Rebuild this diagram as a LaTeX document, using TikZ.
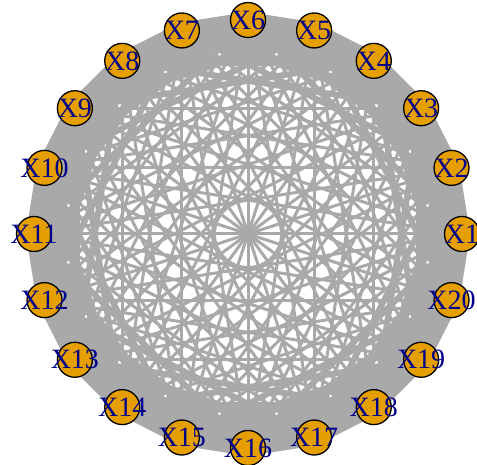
\documentclass[tikz,border=0pt]{standalone}
\usepackage{fontspec}
\setmainfont{Liberation Serif}
\usetikzlibrary{calc}
\definecolor{edgegray}{HTML}{A9A9A9}
\definecolor{nodeorange}{HTML}{E69F00}
\definecolor{labelblue}{HTML}{00008B}
\pgfdeclarelayer{bg}
\pgfsetlayers{bg,main}
\tikzset{
  vtx/.style={circle, draw=black, line width=1.3pt, fill=nodeorange, minimum size=35pt, inner sep=0pt},
  vlabel/.style={text=labelblue, font=\fontsize{28}{28}\selectfont, inner sep=0pt},
  edg/.style={draw=edgegray, line width=#1}
}
\begin{document}
\begin{tikzpicture}[x=1pt,y=1pt]
\useasboundingbox (0,0) rectangle (477,465);
\foreach \i in {1,...,20}{
  \pgfmathsetmacro{\ang}{(\i-1)*18}
  \node[vtx, label={[vlabel]center:X\i}] (n\i) at ($(248,231)+(\ang:214)$) {};
}
\begin{pgfonlayer}{bg}
\fill[white] (0,0) rectangle (477,465);
\foreach \i in {1,...,19}{
  \pgfmathtruncatemacro{\s}{\i+1}
  \foreach \j in {\s,...,20}{
    \pgfmathtruncatemacro{\d}{min(\j-\i,20-\j+\i)}
    \pgfmathsetmacro{\w}{{16,14,12,10,6,3,3,3,3,3}[\d-1]}
    \draw[edg=\w pt] (n\i.center) -- (n\j.center);
  }
}
\end{pgfonlayer}
\end{tikzpicture}
\end{document}
